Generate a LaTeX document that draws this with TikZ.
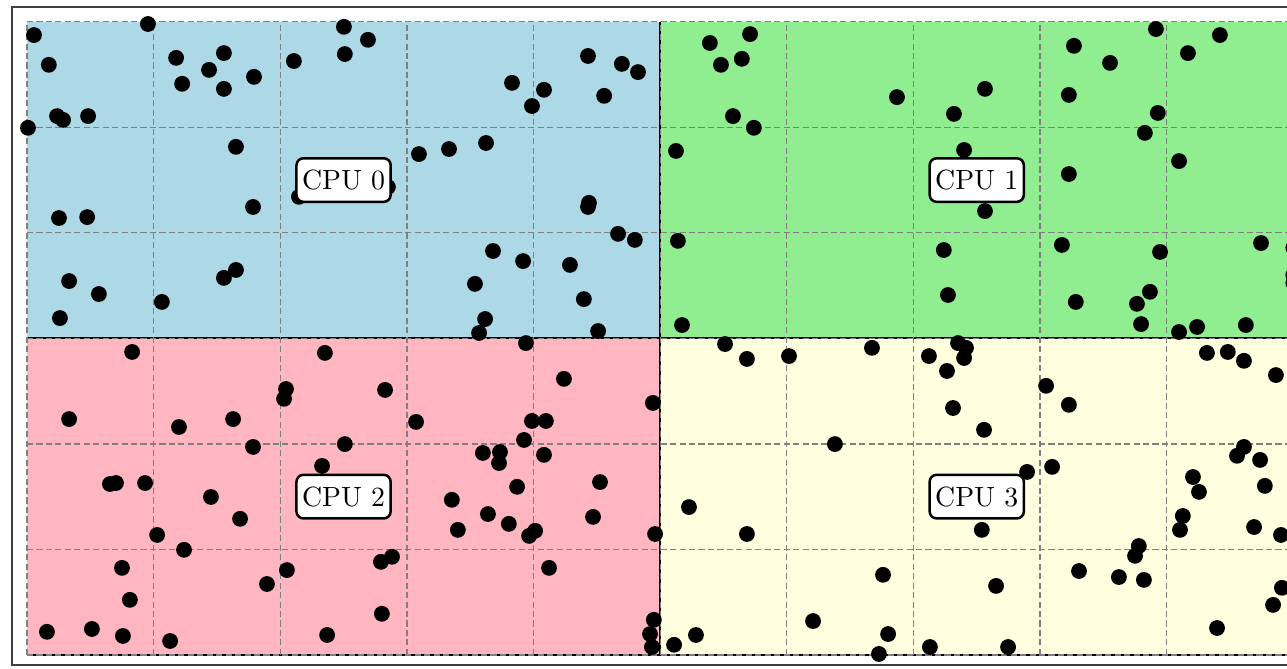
\documentclass[tikz,border=0pt]{standalone}
\usepackage{xcolor}
\usepackage{tikz}

\definecolor{cpublue}{RGB}{173,216,230}
\definecolor{cpugreen}{RGB}{144,238,144}
\definecolor{cpupink}{RGB}{255,182,193}
\definecolor{cpuyellow}{RGB}{255,255,224}

\begin{document}
\begin{tikzpicture}[
x=4cm, y=4cm,
region/.style={minimum width=8cm, minimum height=4cm, inner sep=0pt, outer sep=0pt, anchor=south west},
gridline/.style={gray, line width=0.45pt, dash pattern=on 2.2pt off 1.2pt},
cpulabel/.style={draw, fill=white, rounded corners=2.5pt, line width=0.9pt, inner xsep=2pt, inner ysep=4.2pt},
particle/.style={fill=black}
]

\useasboundingbox (-0.0853,-0.0442) rectangle (3.980,2.0688);

% outer frame
\draw[darkgray, line width=0.5pt] (-0.047,-0.032) rectangle (4.2,2.047);

% subdomains
\node[region, fill=cpublue] (r0) at (0,1) {};
\node[region, fill=cpugreen] (r1) at (2,1) {};
\node[region, fill=cpupink] (r2) at (0,0) {};
\node[region, fill=cpuyellow] (r3) at (2,0) {};

\draw[line width=0.7pt] (r2.south west) -- (r3.south east);
\draw[line width=0.7pt] (r0.south west) -- (r1.south east);
\draw[line width=0.7pt] (r0.north east) -- (r2.south east);

% cells
\foreach \i in {0,...,10}
  \draw[gridline] (\i*0.4,0) -- (\i*0.4,2);
\foreach \j in {0,...,6}
  \draw[gridline] (0,\j/3) -- (4,\j/3);

% CPU 0 particles
\foreach \px/\py in {0.022/1.958, 0.382/1.993, 0.069/1.864, 0.471/1.886, 0.622/1.901,
  0.575/1.848, 0.490/1.804, 0.622/1.788, 0.717/1.826, 0.843/1.876, 1.001/1.984,
  1.077/1.943, 1.004/1.898, 0.003/1.665, 0.095/1.702, 0.114/1.690, 0.193/1.702,
  0.660/1.605, 0.859/1.447, 0.714/1.415, 1.140/1.478, 1.238/1.582, 1.333/1.598,
  1.450/1.617, 1.532/1.807, 1.633/1.785, 1.595/1.734, 1.772/1.892, 1.879/1.867,
  1.930/1.841, 1.823/1.766, 1.775/1.428, 1.772/1.415, 1.867/1.330, 1.920/1.311,
  0.101/1.380, 0.190/1.383, 0.133/1.181, 0.227/1.140, 0.104/1.064, 0.426/1.115,
  0.622/1.191, 0.660/1.216, 1.472/1.276, 1.567/1.244, 1.715/1.232, 1.415/1.172,
  1.447/1.061, 1.428/1.017, 1.759/1.124, 1.804/1.023}
  \fill[particle] (\px,\py) circle (0.1cm);

% CPU 1 particles
\foreach \px/\py in {2.157/1.933, 2.284/1.961, 2.258/1.883, 2.192/1.864, 2.230/1.702,
  2.296/1.665, 2.050/1.592, 2.748/1.762, 3.026/1.788, 2.928/1.709, 2.960/1.595,
  3.026/1.402, 3.307/1.924, 3.421/1.870, 3.566/1.977, 3.667/1.901, 3.768/1.958,
  3.291/1.769, 3.572/1.712, 3.531/1.649, 3.639/1.560, 3.291/1.519, 2.056/1.308,
  2.896/1.279, 2.909/1.137, 2.069/1.042, 3.269/1.295, 3.579/1.273, 3.898/1.301,
  3.313/1.115, 3.547/1.147, 3.506/1.109, 3.519/1.045, 3.639/1.020, 3.696/1.036,
  3.850/1.042, 4.000/1.286, 4.000/1.200, 4.000/1.175}
  \fill[particle] (\px,\py) circle (0.1cm);

% CPU 2 particles
\foreach \px/\py in {0.332/0.957, 0.133/0.745, 0.480/0.720, 0.651/0.745, 0.714/0.657,
  0.818/0.840, 0.812/0.809, 0.941/0.954, 1.131/0.837, 1.004/0.666, 1.229/0.736,
  0.932/0.597, 0.262/0.540, 0.281/0.543, 0.373/0.543, 0.581/0.499, 0.673/0.430,
  0.411/0.379, 0.496/0.332, 0.300/0.275, 0.325/0.174, 0.063/0.073, 0.205/0.082,
  0.303/0.060, 0.452/0.044, 0.758/0.224, 0.821/0.268, 0.948/0.063, 1.118/0.294,
  1.153/0.310, 1.121/0.130, 1.576/0.985, 1.696/0.872, 1.595/0.739, 1.639/0.739,
  1.570/0.679, 1.494/0.641, 1.440/0.638, 1.491/0.606, 1.633/0.632, 1.548/0.531,
  1.810/0.546, 1.342/0.490, 1.361/0.395, 1.456/0.445, 1.522/0.414, 1.605/0.392,
  1.586/0.376, 1.788/0.436, 1.649/0.275, 1.977/0.796, 1.984/0.382, 1.980/0.111,
  1.968/0.066, 1.974/0.025}
  \fill[particle] (\px,\py) circle (0.1cm);

% CPU 3 particles
\foreach \px/\py in {2.205/0.982, 2.274/0.935, 2.407/0.944, 2.669/0.970, 2.849/0.944,
  2.941/0.985, 2.966/0.970, 2.960/0.938, 2.906/0.897, 2.925/0.780, 3.023/0.711,
  3.219/0.850, 3.291/0.790, 3.727/0.954, 3.793/0.957, 3.844/0.929, 3.945/0.884,
  2.552/0.666, 3.159/0.578, 3.238/0.594, 3.844/0.657, 3.822/0.629, 3.895/0.616,
  3.683/0.562, 3.702/0.515, 3.910/0.534, 2.091/0.467, 2.274/0.382, 3.016/0.395,
  3.651/0.439, 3.642/0.395, 3.876/0.404, 3.961/0.379, 3.512/0.344, 3.500/0.313,
  3.323/0.265, 3.449/0.246, 3.528/0.237, 2.704/0.253, 3.061/0.218, 3.964/0.212,
  3.936/0.158, 3.759/0.085, 2.483/0.107, 2.720/0.066, 2.691/0.003, 2.852/0.025,
  3.099/0.025, 2.113/0.063, 2.044/0.032}
  \fill[particle] (\px,\py) circle (0.1cm);

% labels
\node[cpulabel] (cpu0) at (r0.center) {CPU 0};
\node[cpulabel] (cpu1) at (r1.center) {CPU 1};
\node[cpulabel] (cpu2) at (r2.center) {CPU 2};
\node[cpulabel] (cpu3) at (r3.center) {CPU 3};

\end{tikzpicture}
\end{document}
